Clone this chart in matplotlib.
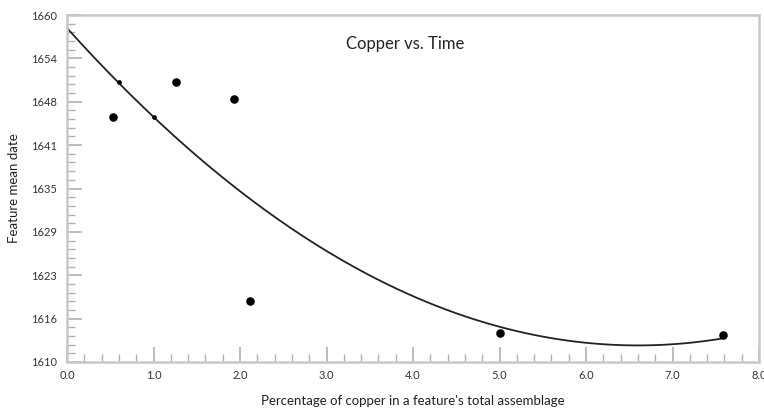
import numpy as np
import matplotlib
matplotlib.use("Agg")
import matplotlib.pyplot as plt
from matplotlib.ticker import MultipleLocator, FixedLocator

# data
copper_pct = [0.53, 1.26, 1.93, 2.12, 5.01, 7.58]
mean_date = [1645.3, 1650.4, 1647.9, 1618.8, 1614.2, 1613.9]
# points lying on the curve (drawn smaller)
copper_pct_on = [0.60, 1.00]
mean_date_on = [1650.3, 1645.3]

y_ticks = [1610, 1616.25, 1622.5, 1628.75, 1635, 1641.25, 1647.5, 1653.75, 1660]
y_tick_labels = ["1610", "1616", "1623", "1629", "1635", "1641", "1648", "1654", "1660"]
x_ticks = [0, 1, 2, 3, 4, 5, 6, 7, 8]
x_tick_labels = ["0.0", "1.0", "2.0", "3.0", "4.0", "5.0", "6.0", "7.0", "8.0"]

plt.rcParams['font.family'] = ['Lato', 'DejaVu Sans']

fig = plt.figure(figsize=(7.64, 4.13), dpi=100)
ax = fig.add_axes([67/764, 1-362/413, (759-67)/764, (362-15)/413])

# quadratic trend fitted to all points
all_x = np.array(copper_pct + copper_pct_on)
all_y = np.array(mean_date + mean_date_on)
coef = np.polyfit(all_x, all_y, 2)
xs = np.linspace(0, max(all_x), 200)
ax.plot(xs, np.polyval(coef, xs), color='#222222', lw=1.3, zorder=2)

ax.scatter(copper_pct, mean_date, s=38, color='black', zorder=3, linewidths=0)
ax.scatter(copper_pct_on, mean_date_on, s=12, color='black', zorder=3, linewidths=0)

ax.set_xlim(0, 8)
ax.set_ylim(1610, 1660)
ax.xaxis.set_major_locator(FixedLocator(x_ticks))
ax.set_xticklabels(x_tick_labels)
ax.xaxis.set_minor_locator(MultipleLocator(0.2))
ax.yaxis.set_major_locator(FixedLocator(y_ticks))
ax.set_yticklabels(y_tick_labels)
ax.yaxis.set_minor_locator(MultipleLocator(1.25))

gray = '#c8c8c8'
for s in ax.spines.values():
    s.set_color(gray)
    s.set_linewidth(1.8)
ax.tick_params(which='both', direction='in', colors='#b0b0b0', labelcolor='#333333',
               labelsize=8, top=False, right=False)
ax.tick_params(which='major', length=11, width=1.2)
ax.tick_params(which='minor', length=6, width=1.0)
ax.tick_params(axis='x', pad=6)
ax.tick_params(axis='y', pad=7)

ax.set_xlabel("Percentage of copper in a feature's total assemblage", fontsize=9.5,
              color='#222222', labelpad=10)
ax.set_ylabel("Feature mean date", fontsize=9.5, color='#222222', labelpad=8)
ax.text(0.488, 0.915, "Copper vs. Time", transform=ax.transAxes, ha='center', va='center',
        fontsize=12, color='#222222')

fig.savefig("out.png", dpi=100)
